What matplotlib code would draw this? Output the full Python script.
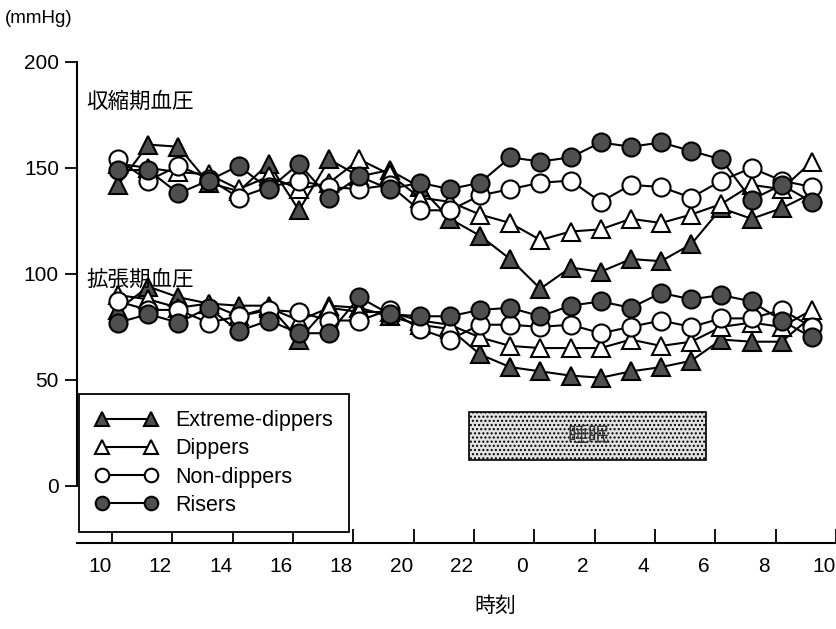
import matplotlib.pyplot as plt
from matplotlib.patches import Rectangle
from matplotlib.transforms import ScaledTranslation

plt.rcParams['font.family'] = ['Liberation Sans', 'DejaVu Sans']
plt.rcParams['hatch.color'] = '#8a8a8a'
plt.rcParams['hatch.linewidth'] = 1.0

JP = ['Noto Sans CJK JP', 'DejaVu Sans']

# measurement times (hours from 10:00 on day 1, so 24 = midnight)
hours = [10.2, 11.2, 12.2, 13.2, 14.2, 15.2, 16.2, 17.2, 18.2, 19.2, 20.2, 21.2,
         22.2, 23.2, 24.2, 25.2, 26.2, 27.2, 28.2, 29.2, 30.2, 31.2, 32.2, 33.2]

tick_hours = [10, 12, 14, 16, 18, 20, 22, 24, 26, 28, 30, 32, 34]
tick_labels = ['10', '12', '14', '16', '18', '20', '22', '0', '2', '4', '6', '8', '10']

# systolic (mmHg)
sbp_extreme = [142, 161, 160, 143, 139, 152, 130, 154, 146, 149, 141, 126,
               118, 107, 93, 103, 101, 107, 106, 114, 131, 126, 131, 138]
sbp_dipper = [152, 150, 148, 147, 140, 146, 140, 143, 154, 147, 136, 134,
              128, 124, 116, 120, 121, 126, 124, 128, 133, 142, 140, 153]
sbp_nondipper = [154, 144, 151, 145, 136, 141, 144, 141, 140, 142, 130, 130,
                 137, 140, 143, 144, 134, 142, 141, 136, 144, 150, 144, 141]
sbp_riser = [149, 149, 138, 144, 151, 140, 152, 136, 146, 140, 143, 140,
             143, 155, 153, 155, 162, 160, 162, 158, 154, 135, 142, 134]

# diastolic (mmHg)
dbp_extreme = [83, 94, 89, 86, 85, 85, 69, 85, 84, 80, 76, 74,
               62, 56, 54, 52, 51, 54, 56, 59, 69, 68, 68, 80]
dbp_dipper = [90, 88, 84, 86, 80, 84, 78, 84, 82, 82, 78, 76,
              70, 66, 65, 65, 65, 69, 66, 68, 75, 77, 75, 83]
dbp_nondipper = [87, 83, 83, 77, 80, 83, 82, 78, 78, 83, 74, 69,
                 76, 76, 75, 76, 72, 75, 78, 75, 79, 79, 83, 75]
dbp_riser = [77, 81, 77, 84, 73, 78, 72, 72, 89, 81, 80, 80,
             83, 84, 80, 85, 87, 84, 91, 88, 90, 87, 78, 70]

groups = ['Extreme-dippers', 'Dippers', 'Non-dippers', 'Risers']
systolic = [sbp_extreme, sbp_dipper, sbp_nondipper, sbp_riser]
diastolic = [dbp_extreme, dbp_dipper, dbp_nondipper, dbp_riser]

DARK = '#4f4f4f'
styles = {
    'Extreme-dippers': ('^', DARK),
    'Dippers':         ('^', 'white'),
    'Non-dippers':     ('o', 'white'),
    'Risers':          ('o', DARK),
}

fig = plt.figure(figsize=(8.36, 6.29), dpi=100)
ax = fig.add_axes([0.0921, 0.1367, 0.9079, 0.7759])

for name, sbp, dbp in zip(groups, systolic, diastolic):
    marker, face = styles[name]
    kw = dict(color='black', lw=1.5, marker=marker, markersize=13,
              markerfacecolor=face, markeredgecolor='black', markeredgewidth=1.5)
    ax.plot(hours, sbp, label=name, **kw)
    ax.plot(hours, dbp, **kw)

# sleep period
ax.add_patch(Rectangle((21.85, 12.3), 7.85, 22.7, facecolor='#e2e2e2',
                       edgecolor='black', lw=1.2, hatch='....', zorder=1))
ax.text(25.78, 23.6, '睡眠', family=JP, fontsize=15, color='#333333',
        ha='center', va='center')

ax.set_xlim(8.84, 33.97)
ax.set_ylim(-27, 203.3)

ax.spines[['top', 'right']].set_visible(False)
ax.spines['left'].set_bounds(0, 200)
for s in ('left', 'bottom'):
    ax.spines[s].set_linewidth(1.5)

ax.set_yticks([0, 50, 100, 150, 200])
ax.tick_params(axis='y', direction='out', length=9, width=1.3, pad=4, labelsize=15)
ax.set_xticks(tick_hours, tick_labels)
ax.tick_params(axis='x', direction='in', length=10, width=1.3, pad=10, labelsize=15)

# hour labels sit a little to the left of their ticks
shift = ScaledTranslation(-12 / 100, 0, fig.dpi_scale_trans)
for lab in ax.get_xticklabels():
    lab.set_transform(lab.get_transform() + shift)

ax.text(0.012, 0.905, '収縮期血圧', transform=ax.transAxes, family=JP,
        fontsize=15.5, va='center')
ax.text(0.012, 0.54, '拡張期血圧', transform=ax.transAxes, family=JP,
        fontsize=15.5, va='center')
fig.text(0.006, 0.971, '(mmHg)', fontsize=13.5, va='center')
fig.text(0.593, 0.037, '時刻', family=JP, fontsize=15, ha='center', va='center')

leg = ax.legend(loc='upper left', bbox_to_anchor=(0.003, 0.305), borderaxespad=0,
                numpoints=2, markerscale=0.75, handlelength=2.9, handletextpad=0.8,
                borderpad=0.75, labelspacing=0.33, fontsize=15.5,
                fancybox=False, edgecolor='black', framealpha=1)
leg.get_frame().set_linewidth(1.3)

fig.savefig('out.png', dpi=100)
